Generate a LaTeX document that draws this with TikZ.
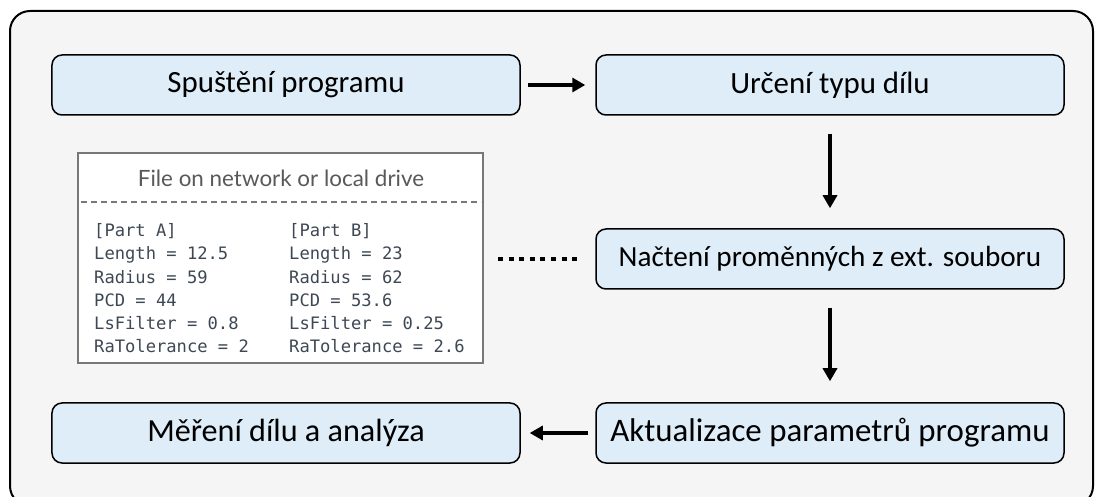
\documentclass[tikz,border=0pt]{standalone}
\usepackage{fontspec}
\setmainfont{Carlito}
\newfontfamily\codefont{DejaVu Sans Mono}
\newfontfamily\titlefont{Lato}
\usetikzlibrary{arrows.meta}
\definecolor{framebg}{RGB}{245,245,245}
\definecolor{boxfill}{RGB}{222,237,248}
\definecolor{filegray}{RGB}{120,120,120}
\definecolor{codecol}{RGB}{62,72,84}
\tikzset{
  stepbox/.style={draw=black, line width=1.5bp, rounded corners=10bp, fill=boxfill,
    minimum width=468bp, minimum height=60bp, inner sep=0pt,
    font=\fontsize{31}{36}\selectfont},
  flow/.style={line width=3.2bp, -{Triangle[length=13bp,width=14bp]}},
  codeline/.style={anchor=base west, inner sep=0pt, text=codecol,
    font=\codefont\fontsize{17.2}{20}\selectfont},
}
\begin{document}
\begin{tikzpicture}[x=1bp,y=-1bp]
  \useasboundingbox (0,0) rectangle (1095,497);
  % outer panel
  \draw[fill=framebg, line width=2bp, rounded corners=20bp] (10,11) rectangle (1093,506);

  % process steps
  \node[stepbox] (start)   at (286,85)  {Spuštění programu};
  \node[stepbox] (type)    at (830,85)  {Určení typu dílu};
  \node[stepbox, font=\fontsize{29.3}{34}\selectfont] (load) at (830,259) {Načtení proměnných z ext. souboru};
  \node[stepbox, font=\fontsize{33}{38}\selectfont] (update) at (830,433) {Aktualizace parametrů programu};
  \node[stepbox, font=\fontsize{32.3}{37}\selectfont] (measure) at (286,433) {Měření dílu a analýza};

  % parameter file
  \node[draw=filegray, line width=2bp, fill=white, minimum width=405bp,
        minimum height=210bp, inner sep=0pt] (file) at (280.5,258) {};
  \node[text=black!65, inner sep=0pt, font=\titlefont\fontsize{22.5}{26}\selectfont]
        (ftitle) at (281,178) {File on network or local drive};
  \draw[filegray, line width=1.4bp, dash pattern=on 6bp off 4bp]
        ([xshift=4bp]file.west |- 0,202) coordinate (dl) -- ([xshift=-3bp]file.east |- 0,202) coordinate (dr);

  \node[codeline] (a0) at (94,236.5) {[Part A]};
  \node[codeline] (a1) at (94,259.8) {Length = 12.5};
  \node[codeline] (a2) at (94,283.1) {Radius = 59};
  \node[codeline] (a3) at (94,306.4) {PCD = 44};
  \node[codeline] (a4) at (94,329.7) {LsFilter = 0.8};
  \node[codeline] (a5) at (94,353.0) {RaTolerance = 2};

  \node[codeline] (b0) at (289,236.5) {[Part B]};
  \node[codeline] (b1) at (289,259.8) {Length = 23};
  \node[codeline] (b2) at (289,283.1) {Radius = 62};
  \node[codeline] (b3) at (289,306.4) {PCD = 53.6};
  \node[codeline] (b4) at (289,329.7) {LsFilter = 0.25};
  \node[codeline] (b5) at (289,353.0) {RaTolerance = 2.6};

  % connectors
  \draw[flow, shorten <=7bp, shorten >=10bp] (start.east) -- (type.west);
  \draw[flow, shorten <=18bp, shorten >=20bp] (type.south) -- (load.north);
  \draw[flow, shorten <=18bp, shorten >=21bp] (load.south) -- (update.north);
  \draw[flow, shorten <=7bp, shorten >=9bp] (update.west) -- (measure.east);
  \draw[line width=4.5bp, dash pattern=on 5bp off 5.6bp, shorten <=14bp, shorten >=16bp]
        (file.east |- load.west) -- (load.west);
\end{tikzpicture}
\end{document}
